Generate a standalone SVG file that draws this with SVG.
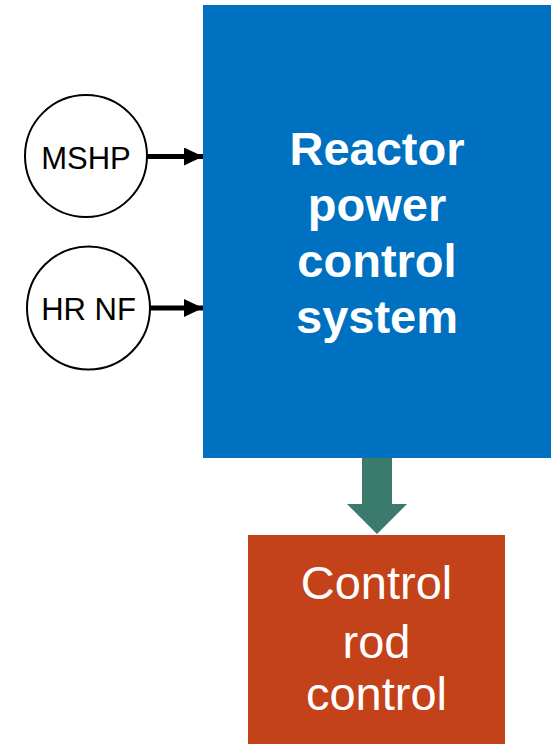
<svg xmlns="http://www.w3.org/2000/svg" width="560" height="744" viewBox="0 0 560 744">
<style>
.circ{fill:#fff;stroke:#000;stroke-width:2}
.ct{font-family:"Liberation Sans",Arial,sans-serif;font-size:31px;fill:#000;text-anchor:middle}
.bt{font-family:"Liberation Sans",Arial,sans-serif;font-size:47px;font-weight:bold;fill:#fff;text-anchor:middle}
.ot{font-family:"Liberation Sans",Arial,sans-serif;font-size:47px;fill:#fff;text-anchor:middle}
.conn{stroke:#000;stroke-width:5;fill:none}
</style>
<defs>
<marker id="ah" markerUnits="userSpaceOnUse" markerWidth="20" markerHeight="18" refX="19" refY="9" orient="auto">
<path d="M0,0 L19,9 L0,18 Z" fill="#000"/>
</marker>
</defs>
<rect width="560" height="744" fill="#fff"/>
<g id="reactor-power-control-system">
<rect x="203" y="5" width="348" height="453" fill="#0070C0"/>
<text class="bt" x="377" y="165">Reactor</text>
<text class="bt" x="377" y="221">power</text>
<text class="bt" x="377" y="277">control</text>
<text class="bt" x="377" y="333">system</text>
</g>
<g id="control-rod-control">
<rect x="248" y="535" width="257" height="209" fill="#C4421A"/>
<text class="ot" x="376.5" y="599">Control</text>
<text class="ot" x="376.5" y="658">rod</text>
<text class="ot" x="376.5" y="710">control</text>
</g>
<g id="mshp">
<circle class="circ" cx="86" cy="156" r="61"/>
<text class="ct" x="86" y="169">MSHP</text>
</g>
<g id="hr-nf">
<circle class="circ" cx="88.5" cy="308" r="61.5"/>
<text class="ct" x="88.5" y="320">HR NF</text>
</g>
<g id="connectors">
<line class="conn" x1="147" y1="156.5" x2="203" y2="156.5" marker-end="url(#ah)"/>
<line class="conn" x1="150" y1="308" x2="203" y2="308" marker-end="url(#ah)"/>
<path d="M362,458 L392,458 L392,504 L407,504 L377,534 L347,504 L362,504 Z" fill="#3B7B6D"/>
</g>
</svg>
